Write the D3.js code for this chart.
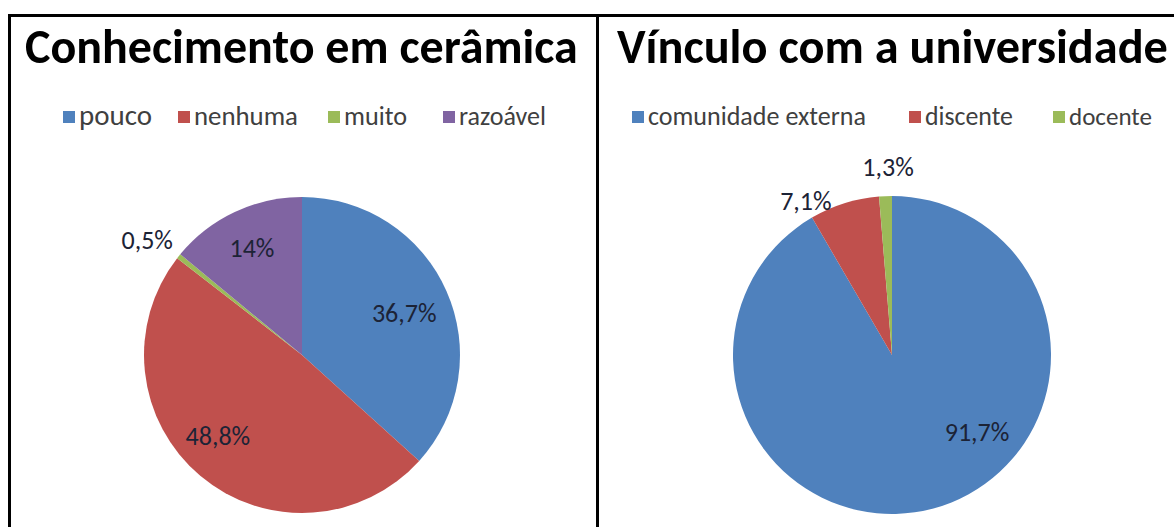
<!DOCTYPE html>
<html>
<head>
<meta charset="utf-8">
<script src="https://cdn.jsdelivr.net/npm/d3@7"></script>
<style>
  html, body { margin: 0; padding: 0; background: #fff; }
  svg { display: block; }
  text { font-family: Carlito, Calibri, Lato, "Open Sans", sans-serif; }
</style>
</head>
<body>
<svg id="chart" width="1174" height="527"></svg>
<script>
// ---- data ----
const knowledgeCategories = ["pouco", "nenhuma", "muito", "razoável"];
const knowledgeValues = [36.7, 48.8, 0.5, 14];
const knowledgeLabels = ["36,7%", "48,8%", "0,5%", "14%"];

const bondCategories = ["comunidade externa", "discente", "docente"];
const bondValues = [91.7, 7.1, 1.3];
const bondLabels = ["91,7%", "7,1%", "1,3%"];

const titles = ["Conhecimento em cerâmica", "Vínculo com a universidade"];

// ---- styling / layout ----
const palette = ["#4F81BD", "#C0504D", "#9BBB59", "#8064A2"];
const svg = d3.select("#chart");

// frame lines
const frame = svg.append("g").attr("stroke", "#000").attr("stroke-width", 3);
frame.append("line").attr("x1", 8).attr("x2", 1174).attr("y1", 15.5).attr("y2", 15.5);
frame.append("line").attr("x1", 9.5).attr("x2", 9.5).attr("y1", 14).attr("y2", 527);
frame.append("line").attr("x1", 597.5).attr("x2", 597.5).attr("y1", 14).attr("y2", 527);

function fitText(sel, targetWidth, size) {
  sel.attr("font-size", size);
  const w = sel.node().getComputedTextLength();
  sel.attr("font-size", size * targetWidth / w);
}

const panels = [
  {
    title: titles[0], titleX: 25, titleW: 553,
    cats: knowledgeCategories, vals: knowledgeValues, labels: knowledgeLabels,
    cx: 302, cy: 355, r: 158,
    legendX: [63, 178, 328, 443], legendTextW: [73, 104, 63, 87],
    labelPos: [[67.6, 0.70], [226, 0.74], [306.6, 1.22], [335, 0.75]]
  },
  {
    title: titles[1], titleX: 617, titleW: 551,
    cats: bondCategories, vals: bondValues, labels: bondLabels,
    cx: 892, cy: 355, r: 159,
    legendX: [632, 909, 1053], legendTextW: [218, 88, 83],
    labelPos: [[132, 0.72], [330.8, 1.11], [358.8, 1.18]]
  }
];

panels.forEach(p => {
  const g = svg.append("g");
  // title
  const t = g.append("text")
    .attr("x", p.titleX).attr("y", 63)
    .attr("font-weight", "bold").attr("fill", "#000")
    .text(p.title);
  fitText(t, p.titleW, 44);

  // legend
  const color = d3.scaleOrdinal().domain(p.cats).range(palette);
  p.cats.forEach((c, i) => {
    g.append("rect")
      .attr("x", p.legendX[i]).attr("y", 111)
      .attr("width", 12).attr("height", 12)
      .attr("fill", color(c));
    const lt = g.append("text")
      .attr("x", p.legendX[i] + 16).attr("y", 124.5)
      .attr("fill", "#404040")
      .text(c);
    fitText(lt, p.legendTextW[i], 22);
  });

  // pie
  const pie = d3.pie().sort(null).value(d => d.v);
  const arcs = pie(p.cats.map((c, i) => ({ c, v: p.vals[i], label: p.labels[i] })));
  const arc = d3.arc().innerRadius(0).outerRadius(p.r);
  const pg = g.append("g").attr("transform", `translate(${p.cx},${p.cy})`);
  pg.selectAll("path").data(arcs).join("path")
    .attr("d", arc)
    .attr("fill", d => color(d.data.c))
    .attr("stroke", "none");

  pg.selectAll("text.lbl").data(arcs).join("text")
    .attr("class", "lbl")
    .attr("x", (d, i) => Math.sin(p.labelPos[i][0] * Math.PI / 180) * p.r * p.labelPos[i][1])
    .attr("y", (d, i) => -Math.cos(p.labelPos[i][0] * Math.PI / 180) * p.r * p.labelPos[i][1])
    .attr("text-anchor", "middle")
    .attr("dominant-baseline", "central")
    .attr("font-size", 26)
    .attr("fill", "#1c2336")
    .text(d => d.data.label);
});
</script>
</body>
</html>
